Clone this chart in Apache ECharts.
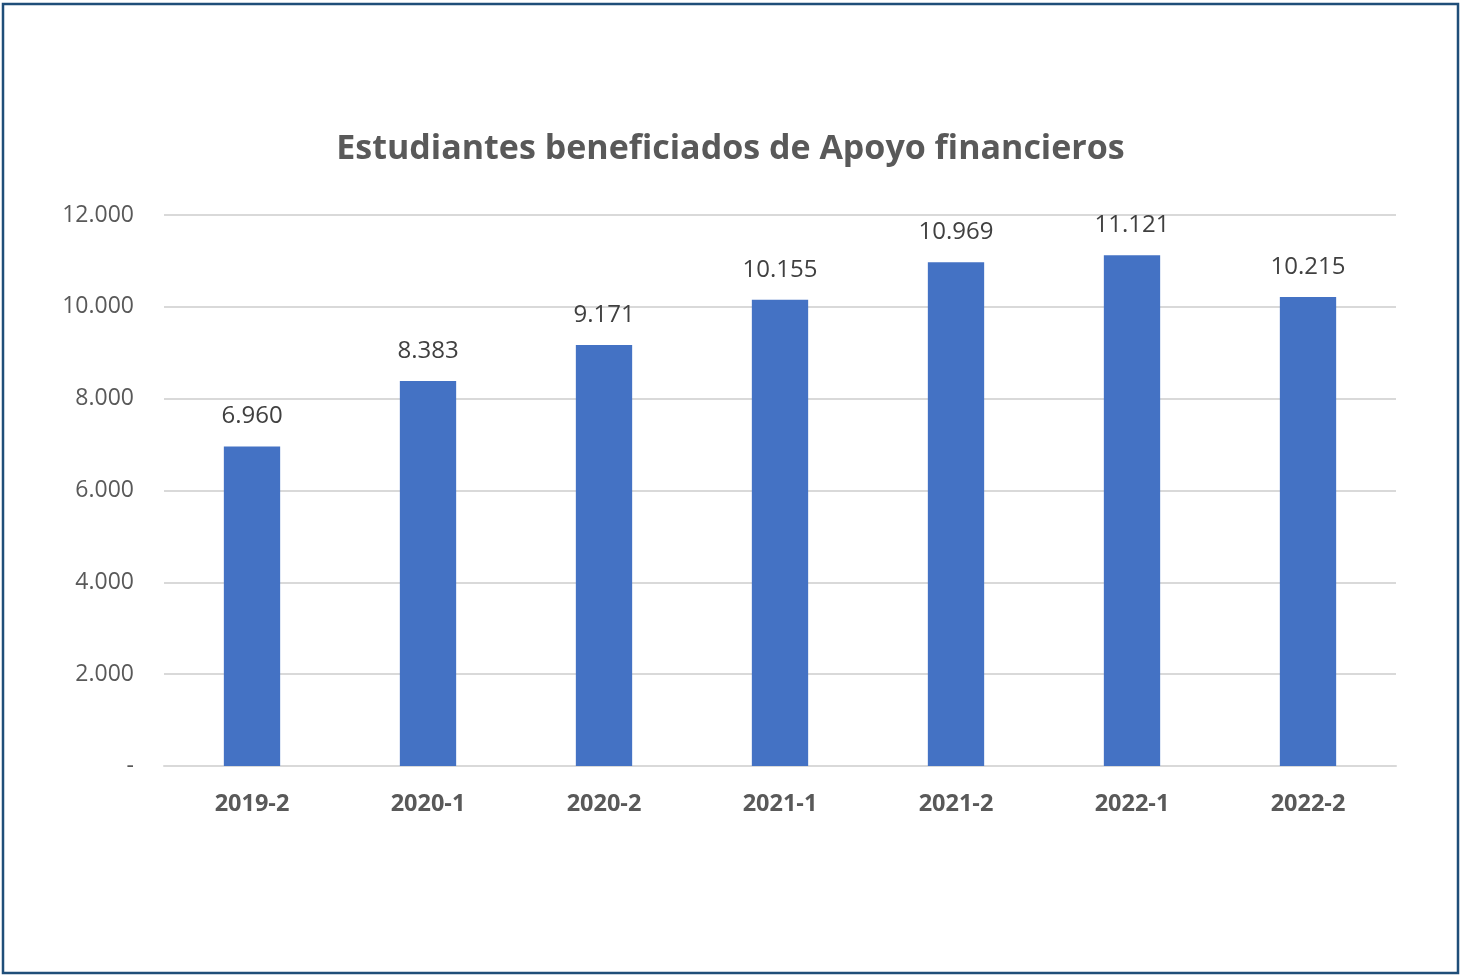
<!DOCTYPE html>
<html>
<head>
<meta charset="utf-8">
<script src="https://cdn.jsdelivr.net/npm/echarts@6/dist/echarts.min.js"></script>
<style>
  html, body { margin: 0; padding: 0; background: #fff; }
  #chartRoot { width: 1461px; height: 975px; }
</style>
</head>
<body>
<div id="chartRoot"></div>
<script>
// 数据
const categories = ["2019-2", "2020-1", "2020-2", "2021-1", "2021-2", "2022-1", "2022-2"];
const students = [6960, 8383, 9171, 10155, 10969, 11121, 10215];
const yTicks = [0, 2000, 4000, 6000, 8000, 10000, 12000];

// 千位用点分隔
const fmt = v => v === 0 ? "-" : String(v).replace(/\B(?=(\d{3})+(?!\d))/g, ".");

const myChart = echarts.init(document.querySelector("#chartRoot"));
const option = {
    animation: false,
    backgroundColor: "#fff",
    title: {
        text: "Estudiantes beneficiados de Apoyo financieros",
        left: "center",
        top: 127,
        textStyle: {
            fontFamily: "Open Sans",
            fontWeight: "bold",
            fontSize: 34,
            color: "#595959"
        }
    },
    graphic: [{
        type: "rect",
        shape: { x: 3, y: 4, width: 1455, height: 969 },
        style: { fill: "none", stroke: "#1f4e79", lineWidth: 2.5 }
    }],
    grid: {
        left: 164,
        right: 65,
        top: 215,
        bottom: 209
    },
    xAxis: {
        type: "category",
        data: categories,
        axisLine: { lineStyle: { color: "#d9d9d9", width: 2 } },
        axisTick: { show: false },
        axisLabel: {
            margin: 26,
            fontFamily: "Open Sans",
            fontWeight: "bold",
            fontSize: 23.5,
            color: "#595959"
        }
    },
    yAxis: {
        type: "value",
        min: 0,
        max: 12000,
        interval: 2000,
        axisLine: { show: false },
        axisTick: { show: false },
        splitLine: { lineStyle: { color: "#d9d9d9", width: 2 } },
        axisLabel: {
            margin: 30,
            fontFamily: "Open Sans",
            fontSize: 23,
            color: "#595959",
            formatter: v => yTicks.includes(v) ? fmt(v) : ""
        }
    },
    series: [{
        type: "bar",
        data: students,
        barWidth: "32%",
        itemStyle: { color: "#4472c4" },
        label: {
            show: true,
            position: "top",
            distance: 18,
            fontFamily: "Open Sans",
            fontSize: 24,
            color: "#404040",
            formatter: p => fmt(p.value)
        }
    }]
};
myChart.setOption(option, true);
</script>
</body>
</html>
